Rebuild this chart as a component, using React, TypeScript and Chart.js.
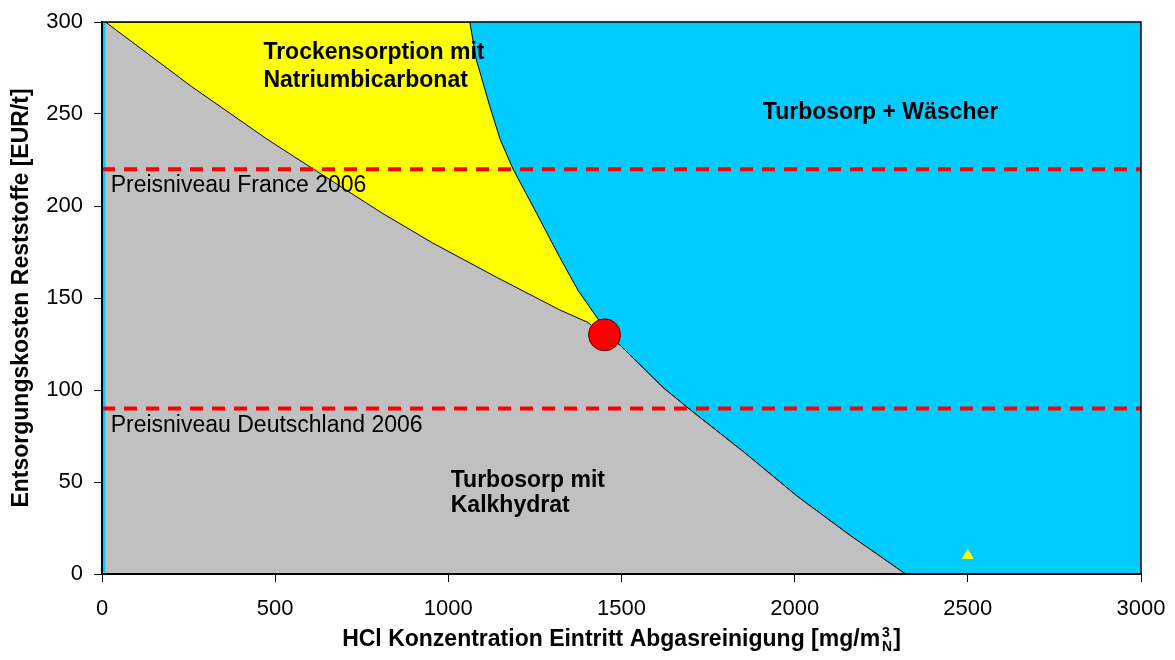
import { useEffect, useRef } from 'react';
import { Chart, registerables } from 'chart.js';

Chart.register(...registerables);

// ---- data ----
const xTicks = [0, 500, 1000, 1500, 2000, 2500, 3000];
const yTicks = [0, 50, 100, 150, 200, 250, 300];

// lower boundary: Turbosorp mit Kalkhydrat (grey)
const grayX = [10, 258, 479, 611, 810, 954, 1142, 1322, 1400, 1451, 1495, 1622, 1700, 1855, 2009, 2160, 2320];
const grayY = [300, 265, 236, 220, 196, 180, 161, 143.5, 137, 130, 124.5, 101, 89, 66, 42, 21, 0];

// boundary towards Turbosorp + Wäscher (everything left/below is yellow or grey)
const yellowX = [10, 1062, 1080, 1120, 1150, 1187, 1255, 1322, 1375, 1438, 1451, 1495, 1622, 1700, 1855, 2009, 2160, 2320];
const yellowY = [300, 300, 280, 254, 236, 220, 196, 172, 154, 137, 130, 124.5, 101, 89, 66, 42, 21, 0];

// full background: Turbosorp + Wäscher (blue)
const blueX = [0, 3000];
const blueY = [300, 300];

// price levels
const franceX = [0, 3000];
const franceY = [220, 220];
const germanyX = [0, 3000];
const germanyY = [90, 90];

// break-even point and marker
const circleX = [1451];
const circleY = [130];
const triangleX = [2500];
const triangleY = [10];

const regionLabels = [
  { text: 'Trockensorption mit', x: 466, y: 279.7, bold: true },
  { text: 'Natriumbicarbonat', x: 466, y: 264.5, bold: true },
  { text: 'Turbosorp + Wäscher', x: 1908, y: 247.1, bold: true },
  { text: 'Turbosorp mit', x: 1007, y: 47.1, bold: true },
  { text: 'Kalkhydrat', x: 1007, y: 33.5, bold: true },
  { text: 'Preisniveau France 2006', x: 25, y: 207.4, bold: false },
  { text: 'Preisniveau Deutschland 2006', x: 25, y: 77, bold: false },
];

const yTitle = 'Entsorgungskosten Reststoffe [EUR/t]';
const xTitleMain = 'HCl Konzentration Eintritt Abgasreinigung [mg/m';
const xTitleSup = '3';
const xTitleSub = 'N';
const xTitleEnd = ']';

const FONT = '"Liberation Sans", Arial, Helvetica, sans-serif';

const zip = (xs: number[], ys: number[]) => xs.map((x, i) => ({ x, y: ys[i] }));

const framePlugin = {
  id: 'frame',
  afterDatasetsDraw(chart: any) {
    const { ctx, chartArea: a } = chart;
    ctx.save();
    ctx.strokeStyle = '#000';
    ctx.lineWidth = 1.5;
    ctx.beginPath();
    ctx.moveTo(a.left, a.top);
    ctx.lineTo(a.right, a.top);
    ctx.lineTo(a.right, a.bottom);
    ctx.stroke();
    ctx.lineWidth = 2;
    ctx.beginPath();
    ctx.moveTo(a.left, a.top);
    ctx.lineTo(a.left, a.bottom);
    ctx.lineTo(a.right, a.bottom);
    ctx.stroke();
    ctx.restore();
  },
};

const labelPlugin = {
  id: 'regionLabels',
  afterDatasetsDraw(chart: any) {
    const { ctx, scales } = chart;
    ctx.save();
    ctx.fillStyle = '#000';
    ctx.textBaseline = 'alphabetic';
    ctx.textAlign = 'left';
    for (const l of regionLabels) {
      ctx.font = `${l.bold ? 'bold ' : ''}23px ${FONT}`;
      ctx.fillText(l.text, scales.x.getPixelForValue(l.x), scales.y.getPixelForValue(l.y));
    }
    ctx.restore();
  },
};

const xTitlePlugin = {
  id: 'xTitle',
  afterDraw(chart: any) {
    const { ctx, chartArea: a } = chart;
    ctx.save();
    ctx.fillStyle = '#000';
    ctx.textBaseline = 'alphabetic';
    ctx.textAlign = 'left';
    const big = `bold 23px ${FONT}`;
    const small = `bold 14px ${FONT}`;
    ctx.font = big;
    const w1 = ctx.measureText(xTitleMain).width;
    const w3 = ctx.measureText(xTitleEnd).width;
    ctx.font = small;
    const w2 = Math.max(ctx.measureText(xTitleSup).width, ctx.measureText(xTitleSub).width) + 3;
    const total = w1 + w2 + w3;
    const start = (a.left + a.right) / 2 - total / 2;
    const base = a.bottom + 72;
    ctx.font = big;
    ctx.fillText(xTitleMain, start, base);
    ctx.font = small;
    ctx.fillText(xTitleSup, start + w1 + 2, base - 9);
    ctx.fillText(xTitleSub, start + w1 + 2, base + 5);
    ctx.font = big;
    ctx.fillText(xTitleEnd, start + w1 + w2, base);
    ctx.restore();
  },
};

export default function App() {
  const ref = useRef<HTMLCanvasElement>(null);

  useEffect(() => {
    if (!ref.current) return;
    const chart = new Chart(ref.current, {
      type: 'line',
      data: {
        datasets: [
          {
            label: 'Turbosorp + Wäscher',
            data: zip(blueX, blueY),
            backgroundColor: '#00CCFF',
            borderColor: 'rgba(0,0,0,0)',
            borderWidth: 1,
            fill: 'origin',
            pointRadius: 0,
            order: 6,
          },
          {
            label: 'Trockensorption mit Natriumbicarbonat',
            data: zip(yellowX, yellowY),
            backgroundColor: '#FFFF00',
            borderColor: '#000',
            borderWidth: 1,
            fill: 'origin',
            pointRadius: 0,
            tension: 0,
            order: 5,
          },
          {
            label: 'Turbosorp mit Kalkhydrat',
            data: zip(grayX, grayY),
            backgroundColor: '#C0C0C0',
            borderColor: '#000',
            borderWidth: 1,
            fill: 'origin',
            pointRadius: 0,
            tension: 0,
            order: 4,
          },
          {
            label: 'Preisniveau France 2006',
            data: zip(franceX, franceY),
            borderColor: '#FF0000',
            borderWidth: 4,
            borderDash: [13, 9],
            fill: false,
            pointRadius: 0,
            order: 3,
          },
          {
            label: 'Preisniveau Deutschland 2006',
            data: zip(germanyX, germanyY),
            borderColor: '#FF0000',
            borderWidth: 4,
            borderDash: [13, 9],
            fill: false,
            pointRadius: 0,
            order: 3,
          },
          {
            label: 'Break-even',
            data: zip(circleX, circleY),
            showLine: false,
            pointRadius: 16,
            pointBackgroundColor: '#FF0000',
            pointBorderColor: '#5a0000',
            pointBorderWidth: 1,
            order: 2,
          },
          {
            label: 'Marker',
            data: zip(triangleX, triangleY),
            showLine: false,
            pointStyle: 'triangle',
            pointRadius: 6,
            pointBackgroundColor: '#FFFF00',
            pointBorderColor: '#FFFF00',
            pointBorderWidth: 1,
            order: 1,
          },
        ],
      },
      options: {
        responsive: false,
        animation: false,
        events: [],
        layout: { padding: { left: 0, right: 34, top: 22, bottom: 0 } },
        plugins: {
          legend: { display: false },
          tooltip: { enabled: false },
          title: { display: false },
        },
        scales: {
          x: {
            type: 'linear',
            min: 0,
            max: 3000,
            afterBuildTicks: (s: any) => {
              s.ticks = xTicks.map((v) => ({ value: v }));
            },
            afterFit: (s: any) => {
              s.height = 86;
              s.paddingLeft = 0;
              s.paddingRight = 0;
            },
            ticks: {
              color: '#000',
              font: { family: FONT, size: 22 },
              padding: 14,
              maxRotation: 0,
              autoSkip: false,
              callback: (v: any) => String(v),
            },
            grid: {
              display: true,
              drawOnChartArea: false,
              drawTicks: true,
              tickLength: 8,
              color: '#000',
              lineWidth: 1,
            },
            border: { display: true, color: '#000', width: 2 },
          },
          y: {
            type: 'linear',
            min: 0,
            max: 300,
            afterBuildTicks: (s: any) => {
              s.ticks = yTicks.map((v) => ({ value: v }));
            },
            afterFit: (s: any) => {
              s.width = 102;
              s.paddingTop = 0;
              s.paddingBottom = 0;
            },
            ticks: {
              color: '#000',
              font: { family: FONT, size: 22 },
              padding: 11,
              autoSkip: false,
              callback: (v: any) => String(v),
            },
            grid: {
              display: true,
              drawOnChartArea: false,
              drawTicks: true,
              tickLength: 8,
              color: '#000',
              lineWidth: 1,
            },
            border: { display: true, color: '#000', width: 2 },
            title: {
              display: true,
              text: yTitle,
              color: '#000',
              font: { family: FONT, size: 23, weight: 'bold' },
              padding: { top: 8, bottom: 0 },
            },
          },
        },
      },
      plugins: [framePlugin, labelPlugin, xTitlePlugin],
    } as any);
    return () => chart.destroy();
  }, []);

  return (
    <div style={{ position: 'fixed', left: 0, top: 0, width: 1175, height: 660, background: '#fff' }}>
      <canvas ref={ref} width={1175} height={660} style={{ display: 'block' }} />
    </div>
  );
}
